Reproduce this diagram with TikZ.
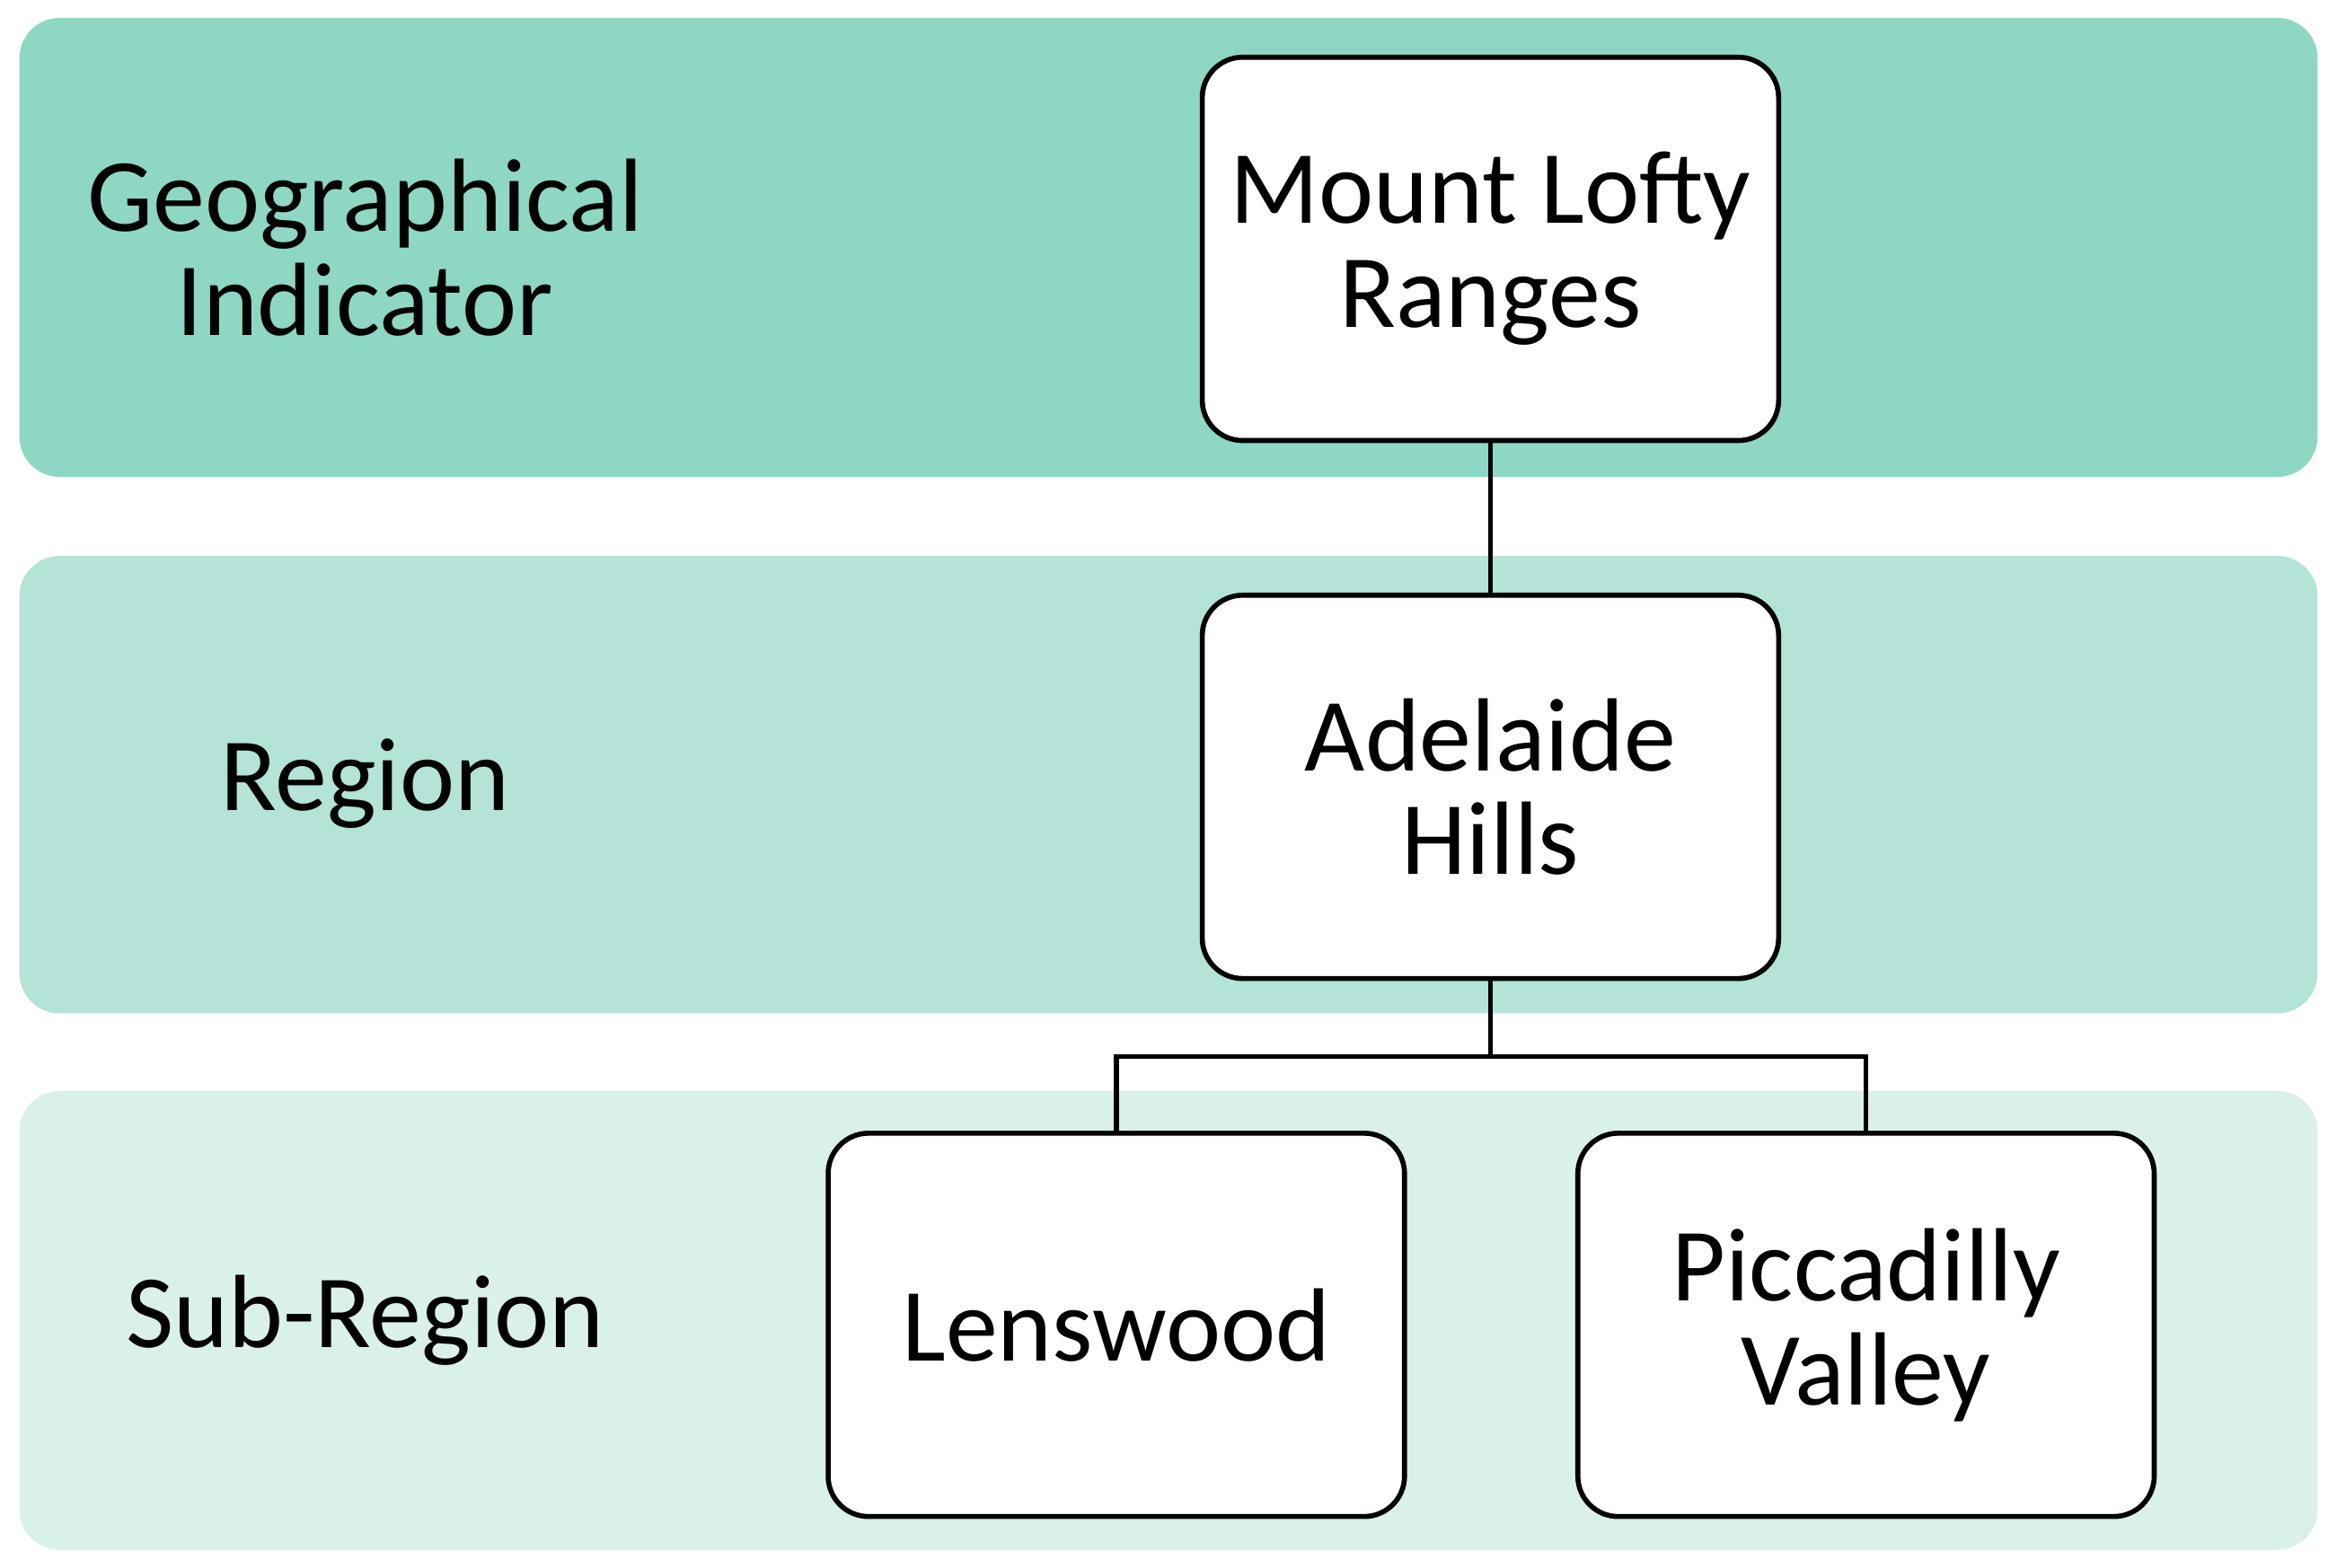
\documentclass[tikz,border=0pt]{standalone}
\usepackage{fontspec}
\setmainfont{Carlito}
\usetikzlibrary{positioning}
\definecolor{bandA}{HTML}{8ED7C4}
\definecolor{bandB}{HTML}{B4E3D7}
\definecolor{bandC}{HTML}{DAF0EA}
\begin{document}
\begin{tikzpicture}[x=0.0166cm, y=-0.0166cm,
    band/.style={rounded corners=0.45cm},
    level/.style={font=\fontsize{33}{33}\selectfont, align=center},
    box/.style={draw, line width=1.6pt, fill=white, rounded corners=0.45cm,
      inner sep=0pt, minimum width=6.42cm, minimum height=4.27cm, align=center,
      font=\fontsize{33}{33}\selectfont},
    link/.style={line width=1.6pt}]
    \useasboundingbox (0,0) rectangle (1568,1052);

    % bands
    \fill[band, bandA] (13,12) rectangle (1555,320);
    \fill[band, bandB] (13,373) rectangle (1555,680);
    \fill[band, bandC] (13,732) rectangle (1555,1040);

    % level labels
    \node[level] (geo) at (245,166) {Geographical\\Indicator};
    \node[level] (reg) at (245,526) {Region};
    \node[level] (sub) at (245,886) {Sub-Region};

    % boxes
    \node[box] (mlr) at (1000,167) {Mount Lofty\\Ranges};
    \node[box] (ah) at (1000,528) {Adelaide\\Hills};
    \node[box] (len) at (749,889) {Lenswood};
    \node[box] (pic) at (1252,889) {Piccadilly\\Valley};

    % connectors
    \coordinate (split) at (1000,709);
    \draw[link] (mlr) -- (ah);
    \draw[link] (ah) -- (split);
    \draw[link] (split) -| (len);
    \draw[link] (split) -| (pic);
\end{tikzpicture}
\end{document}
